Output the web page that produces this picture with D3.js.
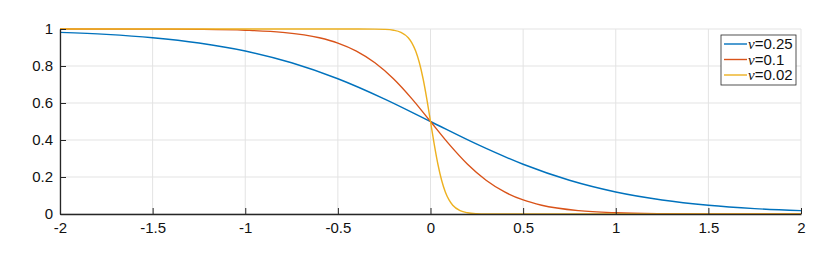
<!DOCTYPE html>
<html>
<head>
<meta charset="utf-8">
<script src="https://cdn.jsdelivr.net/npm/d3@7"></script>
<style>
  body { margin: 0; background: #fff; }
  text { font-family: "Liberation Sans", Arial, sans-serif; }
</style>
</head>
<body>
<div id="chart"></div>
<script>
// values
const xTicks = [-2, -1.5, -1, -0.5, 0, 0.5, 1, 1.5, 2];
const yTicks = [0, 0.2, 0.4, 0.6, 0.8, 1];

const blueX = [-2, -1.75, -1.5, -1.25, -1, -0.75, -0.5, -0.25, 0, 0.25, 0.5, 0.75, 1, 1.25, 1.5, 1.75, 2];
const blueY = [0.982, 0.9707, 0.9526, 0.9241, 0.8808, 0.8176, 0.7311, 0.6225, 0.5, 0.3775, 0.2689, 0.1824, 0.1192, 0.0759, 0.0474, 0.0293, 0.018];

const redX = [-2, -1.5, -1.25, -1, -0.8, -0.6, -0.5, -0.4, -0.3, -0.2, -0.1, 0, 0.1, 0.2, 0.3, 0.4, 0.5, 0.6, 0.8, 1, 1.25, 1.5, 2];
const redY = [1, 0.9995, 0.9981, 0.9933, 0.982, 0.9526, 0.9241, 0.8808, 0.8176, 0.7311, 0.6225, 0.5, 0.3775, 0.2689, 0.1824, 0.1192, 0.0759, 0.0474, 0.018, 0.0067, 0.0019, 0.0005, 0];

const yelX = [-2, -0.4, -0.3, -0.25, -0.2, -0.16, -0.12, -0.1, -0.08, -0.06, -0.04, -0.02, 0, 0.02, 0.04, 0.06, 0.08, 0.1, 0.12, 0.16, 0.2, 0.25, 0.3, 0.4, 2];
const yelY = [1, 0.99995, 0.9995, 0.9981, 0.9933, 0.982, 0.9526, 0.9241, 0.8808, 0.8176, 0.7311, 0.6225, 0.5, 0.3775, 0.2689, 0.1824, 0.1192, 0.0759, 0.0474, 0.018, 0.0067, 0.0019, 0.0005, 0.00005, 0];

const seriesNames = ["=0.25", "=0.1", "=0.02"];
const colors = ["#0072BD", "#D95319", "#EDB120"];

const width = 835, height = 265;
const margin = { top: 29, right: 34, bottom: 51, left: 60 };

const svg = d3.select("#chart")
  .append("svg")
  .attr("width", width)
  .attr("height", height);

const x = d3.scaleLinear()
  .domain([-2, 2])
  .range([margin.left, width - margin.right]);
const y = d3.scaleLinear()
  .domain([0, 1])
  .range([height - margin.bottom, margin.top]);

// grid
svg.append("g")
  .selectAll("line")
  .data(xTicks)
  .enter()
  .append("line")
  .attr("x1", d => x(d)).attr("x2", d => x(d))
  .attr("y1", y(0)).attr("y2", y(1))
  .attr("stroke", "#e3e3e3")
  .attr("stroke-width", 1);
svg.append("g")
  .selectAll("line")
  .data(yTicks)
  .enter()
  .append("line")
  .attr("x1", x(-2)).attr("x2", x(2))
  .attr("y1", d => y(d)).attr("y2", d => y(d))
  .attr("stroke", "#e3e3e3")
  .attr("stroke-width", 1);

// lines
const line = d3.line().curve(d3.curveMonotoneX);
const series = [[blueX, blueY], [redX, redY], [yelX, yelY]];
series.forEach((s, i) => {
  const pts = s[0].map((v, j) => [x(v), y(s[1][j])]);
  svg.append("path")
    .attr("d", line(pts))
    .attr("fill", "none")
    .attr("stroke", colors[i])
    .attr("stroke-width", 1.4);
});

// axes
const xAxis = svg.append("g")
  .attr("transform", `translate(0, ${y(0)})`)
  .call(d3.axisBottom(x).tickValues(xTicks).tickFormat(d => d).tickSizeInner(-6).tickSizeOuter(0).tickPadding(8));
const yAxis = svg.append("g")
  .attr("transform", `translate(${x(-2)}, 0)`)
  .call(d3.axisLeft(y).tickValues(yTicks).tickFormat(d => d).tickSizeInner(-6).tickSizeOuter(0).tickPadding(7));

[xAxis, yAxis].forEach(a => {
  a.select(".domain").attr("stroke", "#262626").attr("stroke-width", 1.3);
  a.selectAll(".tick line").attr("stroke", "#262626").attr("stroke-width", 1);
  a.selectAll(".tick text")
    .attr("fill", "#111")
    .style("font-size", "15px")
    .style("font-family", "Liberation Sans, Arial, sans-serif");
});

// legend
const lg = svg.append("g").attr("transform", "translate(721, 35)");
lg.append("rect")
  .attr("x", 0).attr("y", 0)
  .attr("width", 75).attr("height", 50)
  .attr("fill", "#fff")
  .attr("stroke", "#262626")
  .attr("stroke-width", 0.8);
seriesNames.forEach((n, i) => {
  const yy = 9 + i * 15.5;
  lg.append("line")
    .attr("x1", 3).attr("x2", 26)
    .attr("y1", yy).attr("y2", yy)
    .attr("stroke", colors[i])
    .attr("stroke-width", 1.4);
  const t = lg.append("text")
    .attr("x", 27).attr("y", yy + 5)
    .style("font-size", "15px")
    .attr("fill", "#111");
  t.append("tspan").style("font-family", "Liberation Serif, serif").style("font-style", "italic").text("ν");
  t.append("tspan").text(n);
});
</script>
</body>
</html>
